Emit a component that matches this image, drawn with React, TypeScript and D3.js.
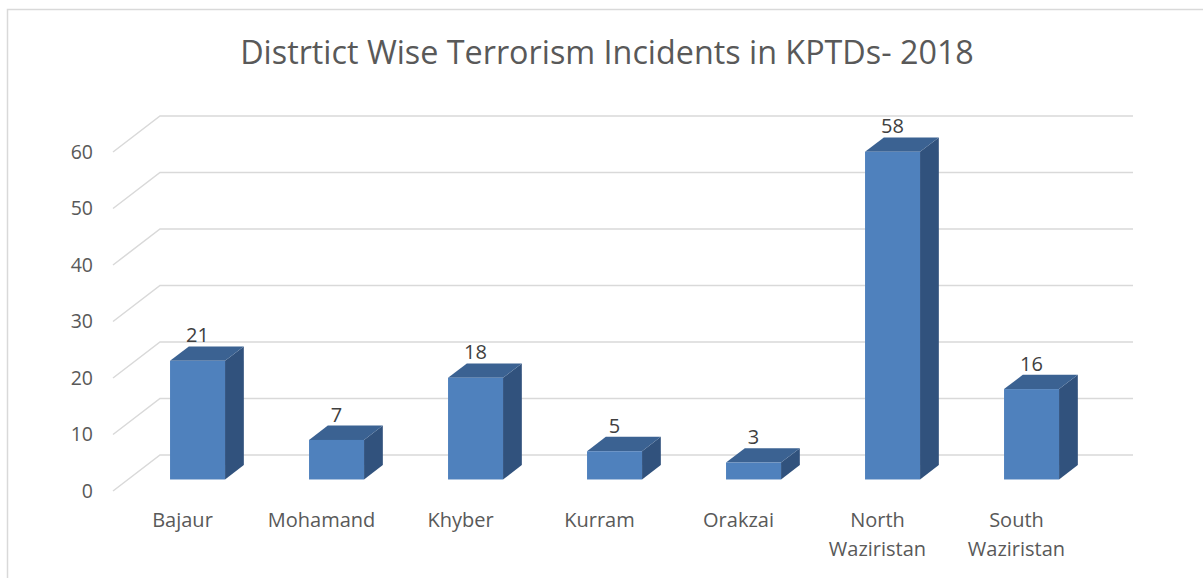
import { useRef, useEffect } from "react";
import * as d3 from "d3";

const districts = ["Bajaur", "Mohamand", "Khyber", "Kurram", "Orakzai", "North Waziristan", "South Waziristan"];
const incidents = [21, 7, 18, 5, 3, 58, 16];
const yTicks = [0, 10, 20, 30, 40, 50, 60];
const title = "Distrtict Wise Terrorism Incidents in KPTDs- 2018";

export default function App() {
  const ref = useRef<SVGSVGElement>(null);

  useEffect(() => {
    const svg = d3.select(ref.current);
    svg.selectAll("*").remove();

    const font = "'Open Sans', sans-serif";
    // floor: front-left corner and depth vector (oblique projection)
    const x0 = 113,
      y0 = 491;
    const depth = { dx: 47, dy: -36 };
    const plotRight = 1133;

    const h = d3.scaleLinear().domain([0, 60]).range([0, 339]);
    const x = d3
      .scaleBand()
      .domain(districts)
      .range([x0, plotRight - depth.dx])
      .paddingInner(0)
      .paddingOuter(0);

    // chart border
    svg
      .append("rect")
      .attr("x", 7.5)
      .attr("y", 9.5)
      .attr("width", 1220)
      .attr("height", 600)
      .attr("fill", "#fff")
      .attr("stroke", "#d9d9d9")
      .attr("stroke-width", 1.5);

    svg
      .append("text")
      .attr("x", 607)
      .attr("y", 64)
      .attr("text-anchor", "middle")
      .attr("font-family", font)
      .attr("font-size", 32.3)
      .attr("fill", "#595959")
      .text(title);

    // gridlines
    const grid = svg.append("g");
    yTicks.forEach((v) => {
      const yy = y0 - h(v);
      grid
        .append("polyline")
        .attr("points", `${x0},${yy} ${x0 + depth.dx},${yy + depth.dy} ${plotRight},${yy + depth.dy}`)
        .attr("fill", "none")
        .attr("stroke", "#d9d9d9")
        .attr("stroke-width", 1.5);
      grid
        .append("text")
        .attr("x", 93)
        .attr("y", yy)
        .attr("dy", "0.35em")
        .attr("text-anchor", "end")
        .attr("font-family", font)
        .attr("font-size", 19.5)
        .attr("fill", "#595959")
        .text(v);
    });

    // bars
    const fa = 0.32,
      fb = 0.72;
    const barW = 55;
    const bars = svg.append("g");
    districts.forEach((d, i) => {
      const v = incidents[i];
      const cx = x(d)! + x.bandwidth() / 2 + depth.dx * fa;
      const by = y0 + depth.dy * fa;
      const l = cx - barW / 2,
        r = cx + barW / 2;
      const t = by - h(v);
      const ddx = depth.dx * (fb - fa),
        ddy = depth.dy * (fb - fa);
      // side
      bars
        .append("path")
        .attr("d", `M${r},${by}L${r + ddx},${by + ddy}L${r + ddx},${t + ddy}L${r},${t}Z`)
        .attr("fill", "#31527d");
      // top
      bars
        .append("path")
        .attr("d", `M${l},${t}L${r},${t}L${r + ddx},${t + ddy}L${l + ddx},${t + ddy}Z`)
        .attr("fill", "#3b6292");
      // front
      bars
        .append("rect")
        .attr("x", l)
        .attr("y", t)
        .attr("width", barW)
        .attr("height", by - t)
        .attr("fill", "#4f81bd");
      bars
        .append("text")
        .attr("x", cx)
        .attr("y", t + ddy - 4)
        .attr("text-anchor", "middle")
        .attr("font-family", font)
        .attr("font-size", 20)
        .attr("fill", "#404040")
        .text(v);
    });

    // category labels
    const labels = svg.append("g");
    districts.forEach((d) => {
      const words = d.split(" ");
      const t = labels
        .append("text")
        .attr("text-anchor", "middle")
        .attr("font-family", font)
        .attr("font-size", 20)
        .attr("fill", "#595959");
      words.forEach((w, k) => {
        t.append("tspan")
          .attr("x", x(d)! + x.bandwidth() / 2)
          .attr("y", 527 + k * 28.5)
          .text(w);
      });
    });
  }, []);

  return (
    <svg
      ref={ref}
      width={1203}
      height={578}
      style={{ position: "absolute", left: 0, top: 0, display: "block" }}
    />
  );
}
